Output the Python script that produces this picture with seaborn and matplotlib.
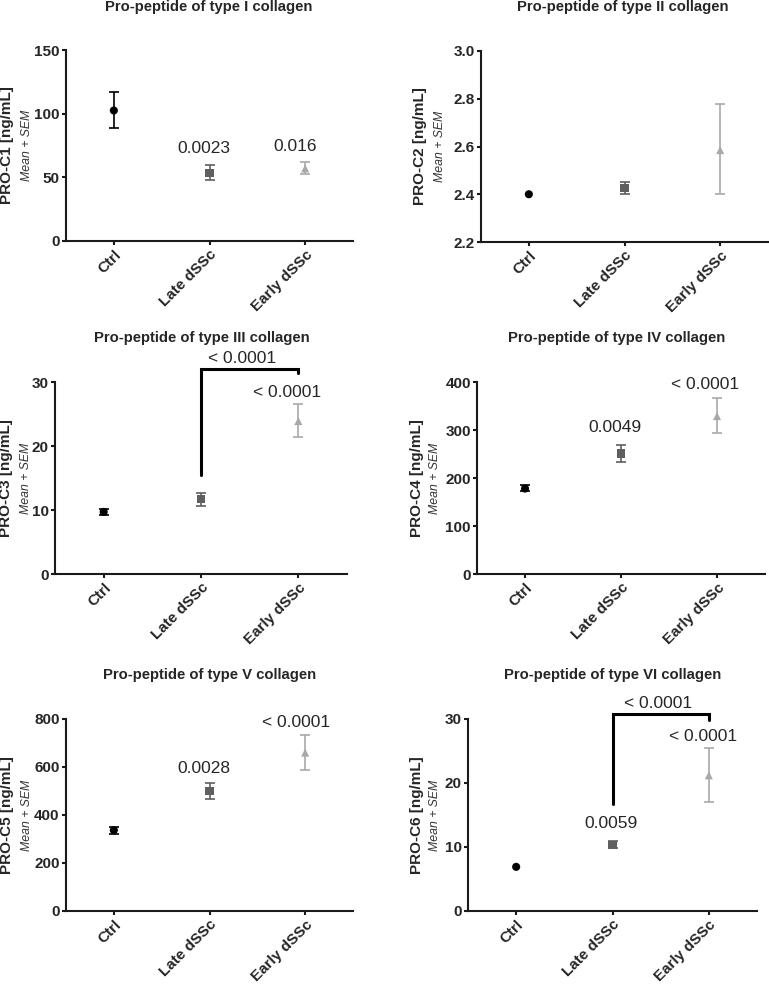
#!/usr/bin/env python3

import pandas as pd
import matplotlib.pyplot as plt
import seaborn as sns

groups = ["Ctrl", "Late dSSc", "Early dSSc"]
markers = {"Ctrl": "o", "Late dSSc": "s", "Early dSSc": "^"}
colors = {"Ctrl": "#000000", "Late dSSc": "#5f5f5f", "Early dSSc": "#a9a9a9"}

titles = [
    "Pro-peptide of type I collagen",
    "Pro-peptide of type II collagen",
    "Pro-peptide of type III collagen",
    "Pro-peptide of type IV collagen",
    "Pro-peptide of type V collagen",
    "Pro-peptide of type VI collagen",
]
ylabels = ["PRO-C1 [ng/mL]", "PRO-C2 [ng/mL]", "PRO-C3 [ng/mL]",
           "PRO-C4 [ng/mL]", "PRO-C5 [ng/mL]", "PRO-C6 [ng/mL]"]

# mean, lower and upper ends of the SEM bar per group
means = [[102.5, 53.5, 57.0], [2.40, 2.425, 2.585], [9.7, 11.7, 23.9],
         [178, 251, 329], [337, 500, 660], [6.9, 10.3, 21.2]]
lows = [[88.5, 48.0, 53.0], [2.40, 2.40, 2.40], [9.2, 10.7, 21.4],
        [172, 234, 294], [322, 465, 588], [6.9, 9.8, 17.0]]
highs = [[117.0, 59.5, 62.0], [2.40, 2.45, 2.78], [10.2, 12.7, 26.6],
         [186, 268, 366], [352, 535, 732], [6.9, 10.9, 25.5]]

yticks = [[0, 50, 100, 150], [2.2, 2.4, 2.6, 2.8, 3.0], [0, 10, 20, 30],
          [0, 100, 200, 300, 400], [0, 200, 400, 600, 800], [0, 10, 20, 30]]
ytick_labels = [None, ["2.2", "2.4", "2.6", "2.8", "3.0"], None, None, None, None]

# p-value labels above groups: (panel, group, x shift, y, text)
pvals = [
    (0, "Late dSSc", -0.06, 72.6, "0.0023"),
    (0, "Early dSSc", -0.10, 74.5, "0.016"),
    (2, "Early dSSc", -0.12, 28.3, "< 0.0001"),
    (3, "Late dSSc", -0.06, 306, "0.0049"),
    (3, "Early dSSc", -0.12, 394, "< 0.0001"),
    (4, "Late dSSc", -0.06, 595, "0.0028"),
    (4, "Early dSSc", -0.10, 786, "< 0.0001"),
    (5, "Late dSSc", -0.02, 13.6, "0.0059"),
    (5, "Early dSSc", -0.06, 27.3, "< 0.0001"),
]
# brackets Late vs Early: (panel, left bottom, top, right bottom, label x, label y)
brackets = [
    (2, 15.5, 32.0, 31.4, 1.42, 33.6),
    (5, 16.7, 30.8, 29.9, 1.47, 32.4),
]

# axes boxes in pixels: left, right, top, bottom
boxes = [(66, 353, 50, 241), (481, 768, 51, 242), (55, 347, 382, 574),
         (477, 765, 382, 574), (66, 353, 719, 911), (468, 757, 719, 911)]
# title centres and y-label x positions in pixels
title_xy = [(209, 7), (623, 7), (202, 338), (617, 338), (210, 675), (613, 675)]
label_x = [(7, 27), (420, 440), (6, 26), (417, 435), (7, 27), (417, 435)]

W, H = 769, 985
sns.set_style("ticks")
plt.rcParams["font.family"] = ["Liberation Sans", "DejaVu Sans"]
fig = plt.figure(figsize=(W / 100, H / 100), dpi=100)

axes = []
for i in range(6):
    l, r, t, b = boxes[i]
    ax = fig.add_axes([l / W, 1 - b / H, (r - l) / W, (b - t) / H])
    df = pd.DataFrame({"group": groups, "mean": means[i],
                       "lo": lows[i], "hi": highs[i]})
    sns.scatterplot(data=df, x="group", y="mean", hue="group", style="group",
                    markers=markers, palette=colors, s=34, linewidth=0,
                    legend=False, ax=ax, zorder=3)
    for _, row in df.iterrows():
        if row["hi"] - row["lo"] <= 0:
            continue
        ax.errorbar([row["group"]], [row["mean"]],
                    yerr=[[row["mean"] - row["lo"]], [row["hi"] - row["mean"]]],
                    fmt="none", ecolor=colors[row["group"]], elinewidth=1.2,
                    capsize=3.6, capthick=1.2, zorder=2)
    ax.set_xlim(-0.5, 2.5)
    ax.set_ylim(yticks[i][0], yticks[i][-1])
    ax.set_yticks(yticks[i])
    if ytick_labels[i]:
        ax.set_yticklabels(ytick_labels[i])
    ax.set_xlabel("")
    ax.set_ylabel("")
    sns.despine(ax=ax)
    for s in ["left", "bottom"]:
        ax.spines[s].set_linewidth(1.5)
        ax.spines[s].set_color("#1a1a1a")
    ax.tick_params(axis="both", width=1.5, length=3, color="#1a1a1a", pad=1.5)
    for lab in ax.get_yticklabels():
        lab.set_fontweight("bold")
        lab.set_fontsize(11)
    for lab in ax.get_xticklabels():
        lab.set_fontweight("bold")
        lab.set_fontsize(11)
        lab.set_rotation(45)
        lab.set_ha("right")
        lab.set_rotation_mode("anchor")
    tx, ty = title_xy[i]
    fig.text(tx / W, 1 - ty / H, titles[i], ha="center", va="center",
             fontsize=10.7, fontweight="bold")
    lx, mx = label_x[i]
    yc = 1 - (t + b) / 2 / H
    fig.text(lx / W, yc, ylabels[i], rotation=90, ha="center", va="center",
             fontsize=11, fontweight="bold")
    fig.text(mx / W, yc, "Mean + SEM", rotation=90, ha="center", va="center",
             fontsize=8.8, fontstyle="italic", color="#333333")
    axes.append(ax)

for i, g, dx, y, txt in pvals:
    axes[i].text(groups.index(g) + dx, y, txt, ha="center", va="center",
                 fontsize=12.5, clip_on=False)

for i, y0, ytop, y1, lx, ly in brackets:
    ax = axes[i]
    ax.plot(["Late dSSc", "Late dSSc", "Early dSSc", "Early dSSc"],
            [y0, ytop, ytop, y1], color="black", lw=2.2, clip_on=False,
            solid_joinstyle="miter")
    ax.text(lx, ly, "< 0.0001", ha="center", va="center", fontsize=12.5)

fig.savefig("out.png", dpi=100)
